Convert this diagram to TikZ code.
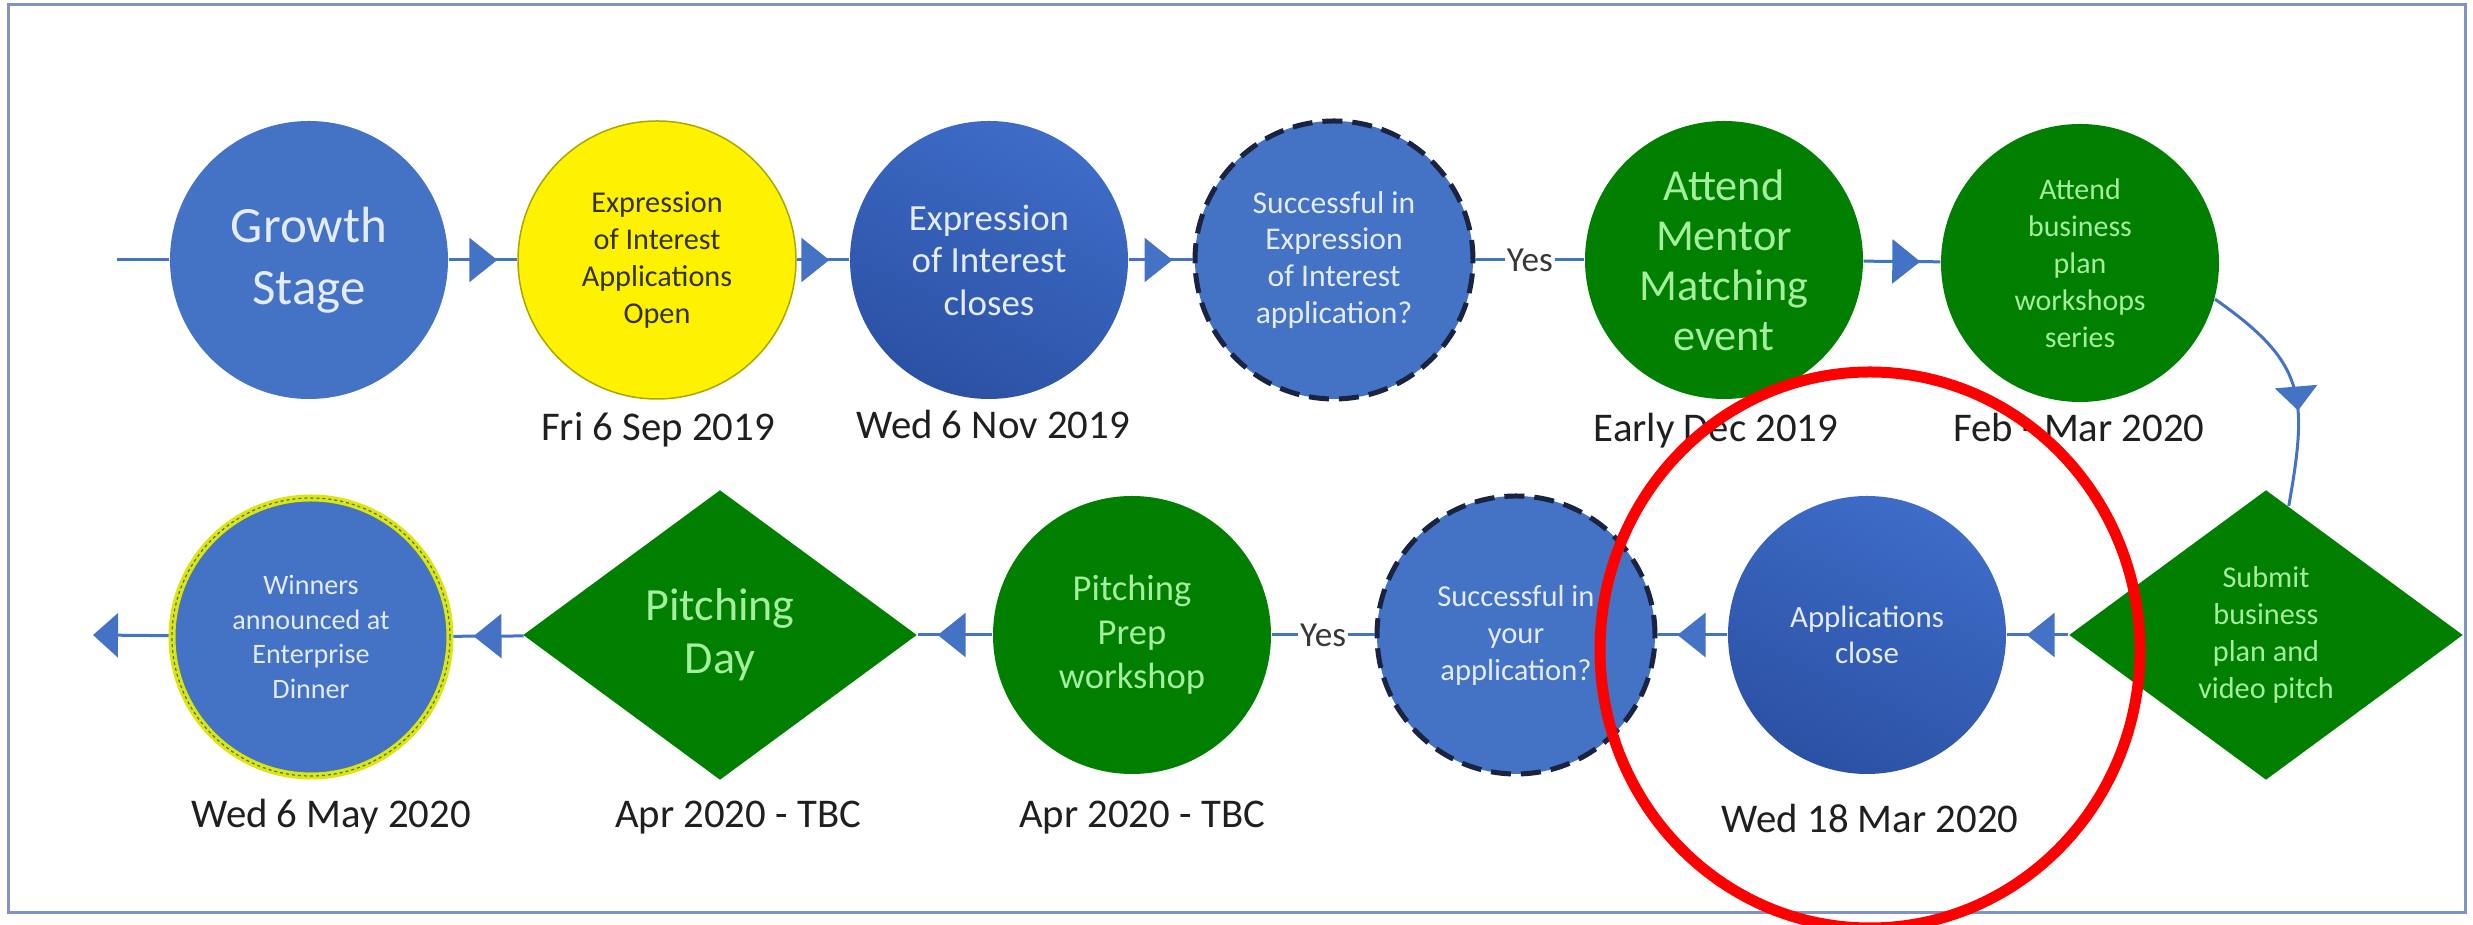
\documentclass[tikz,border=0pt]{standalone}
\usepackage{fontspec}
\setmainfont{Carlito}
\usetikzlibrary{arrows.meta,positioning,shapes.geometric,decorations.markings}

\definecolor{pptblue}{HTML}{4472C4}
\definecolor{deepblue}{HTML}{2B51A4}
\definecolor{midblue}{HTML}{3E6CC7}
\definecolor{pptgreen}{HTML}{007F00}
\definecolor{leaf}{HTML}{A4EE9E}
\definecolor{paleblue}{HTML}{E4EBFB}
\definecolor{navy}{HTML}{1A2340}
\definecolor{yelledge}{HTML}{A8A800}
\definecolor{frameblue}{HTML}{8093C4}

\tikzset{
  circ/.style={circle, minimum size=2.78cm, inner sep=0pt, align=center},
  bluecirc/.style={circ, fill=pptblue, text=paleblue},
  deepcirc/.style={circ, top color=midblue, bottom color=deepblue, shading angle=-25, text=paleblue},
  query/.style={bluecirc, draw=navy, line width=0.05cm, dash pattern=on 0.2cm off 0.1cm},
  greencirc/.style={circ, fill=pptgreen, text=leaf},
  gem/.style={diamond, fill=pptgreen, text=leaf, minimum width=3.94cm, minimum height=2.9cm, inner sep=0pt, align=center},
  date/.style={anchor=base, text=black!88, font=\fontsize{11.6}{14}\selectfont},
  link/.style={color=pptblue, line width=0.03cm},
  flow/.style={link, postaction={decorate}, decoration={markings, mark=at position -0.2cm with {\arrow{Triangle[length=0.28cm,width=0.44cm]}}}},
  yes/.style={fill=white, inner sep=0.5pt, text=black!78, font=\fontsize{10}{12}\selectfont}
}

\begin{document}
\begin{tikzpicture}
  \useasboundingbox (0,0) rectangle (24.73,-9.25);
  \draw[frameblue, line width=0.03cm] (0.08,-0.05) rectangle (24.65,-9.13);

  \node[bluecirc, font=\fontsize{14.5}{17.6}\selectfont] (growth) at (3.09,-2.60) {Growth\\Stage};
  \node[circ, fill=yellow, draw=yelledge, line width=0.015cm, text=black!70!yelledge, font=\fontsize{8.6}{10.5}\selectfont] (eoiopen) at (6.57,-2.60) {Expression\\of Interest\\Applications\\Open};
  \node[deepcirc, font=\fontsize{10.5}{12.1}\selectfont] (eoiclose) at (9.89,-2.60) {Expression\\of Interest\\closes};
  \node[query, font=\fontsize{9}{10.5}\selectfont] (eoiq) at (13.34,-2.60) {Successful in\\Expression\\of Interest\\application?};
  \node[greencirc, font=\fontsize{12.6}{14.2}\selectfont] (mentor) at (17.24,-2.60) {Attend\\Mentor\\Matching\\event};
  \node[greencirc, font=\fontsize{8.5}{10.5}\selectfont] (plan) at (20.80,-2.63) {Attend\\business\\plan\\workshops\\series};

  \node[gem, font=\fontsize{8.6}{10.5}\selectfont] (submit) at (22.66,-6.35) {Submit\\business\\plan and\\video pitch};
  \node[deepcirc, font=\fontsize{8.8}{10.3}\selectfont] (appclose) at (18.67,-6.35) {Applications\\close};
  \node[query, font=\fontsize{8.7}{10.5}\selectfont] (yourq) at (15.16,-6.35) {Successful in\\your\\application?};
  \node[greencirc, font=\fontsize{10.4}{12.5}\selectfont] (prep) at (11.32,-6.35) {Pitching\\Prep\\workshop};
  \node[gem, font=\fontsize{13.1}{15}\selectfont] (pitch) at (7.20,-6.35) {Pitching\\Day};
  \node[bluecirc, draw=yellow!85!green, line width=0.07cm, postaction={draw=navy!70, line width=0.012cm, dash pattern=on 0.03cm off 0.03cm}, font=\fontsize{8}{9.8}\selectfont] (winners) at (3.11,-6.37) {Winners\\announced at\\Enterprise\\Dinner};

  \node[date] (d1) at (6.58,-4.41) {Fri 6 Sep 2019};
  \node[date] (d2) at (9.93,-4.39) {Wed 6 Nov 2019};
  \node[date] (d3) at (17.16,-4.42) {Early Dec 2019};
  \node[date] (d4) at (20.79,-4.42) {Feb - Mar 2020};
  \node[date] (d5) at (3.31,-8.28) {Wed 6 May 2020};
  \node[date] (d6) at (7.38,-8.28) {Apr 2020 - TBC};
  \node[date] (d7) at (11.42,-8.28) {Apr 2020 - TBC};
  \node[date] (d8) at (18.70,-8.33) {Wed 18 Mar 2020};

  \coordinate (start) at (1.17,-2.60);
  \coordinate (finish) at (0.93,-6.35);
  \draw[link] (start) -- (growth);
  \draw[flow] (growth) -- (eoiopen);
  \draw[flow] (eoiopen) -- (eoiclose);
  \draw[flow] (eoiclose) -- (eoiq);
  \draw[link] (eoiq) -- node[yes] (yes1) {Yes} (mentor);
  \draw[flow] (mentor) -- (plan);
  \draw[link, postaction={decorate}, decoration={markings, mark=at position 0.6 with {\arrow{Triangle[length=0.24cm,width=0.42cm]}}}] (plan.-15) to[out=-35,in=80,looseness=1.3] (submit.80);
  \draw[flow] (submit) -- (appclose);
  \draw[flow] (appclose) -- (yourq);
  \draw[link] (yourq) -- node[yes] (yes2) {Yes} (prep);
  \draw[flow] (prep) -- (pitch);
  \draw[flow] (pitch) -- (winners);
  \draw[link, -{Triangle[length=0.25cm,width=0.44cm]}] (winners) -- (finish);

  \draw[red, line width=0.11cm] (18.70,-6.50) ellipse [x radius=2.70, y radius=2.78];
\end{tikzpicture}
\end{document}
